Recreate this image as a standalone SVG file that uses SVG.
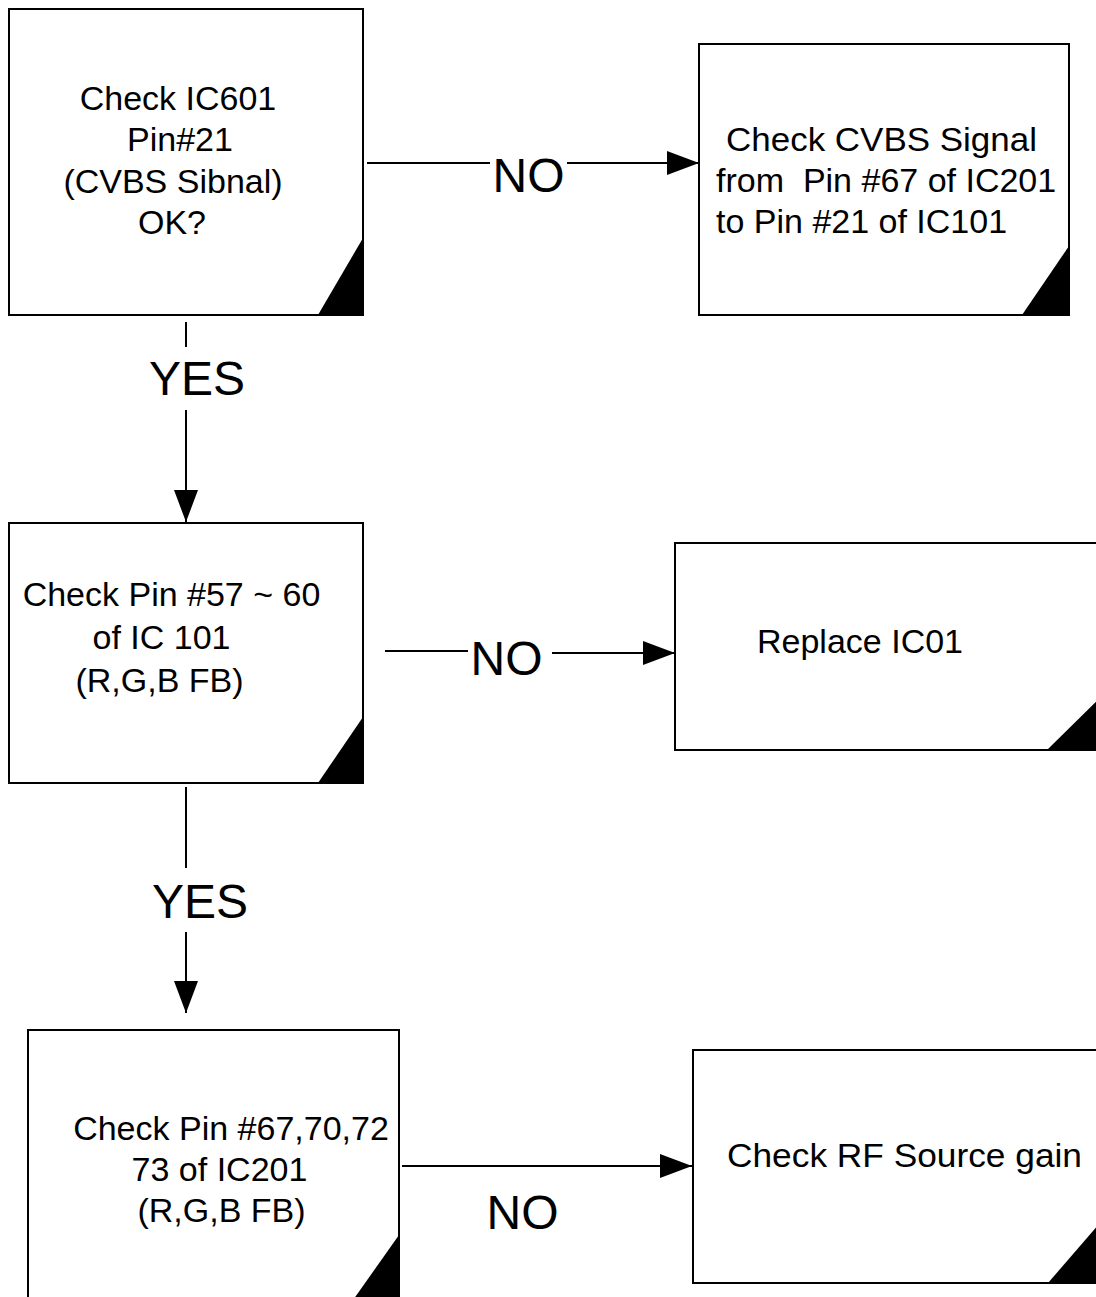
<svg xmlns="http://www.w3.org/2000/svg" width="1096" height="1297" viewBox="0 0 1096 1297">
<defs>
<marker id="arr" markerUnits="userSpaceOnUse" markerWidth="32" markerHeight="24" viewBox="0 0 32 24" refX="32" refY="12" orient="auto"><path d="M0,0 L32,12 L0,24 Z" fill="#000"/></marker>
<style>
.box{fill:#fff;stroke:#000;stroke-width:2}
.corner{fill:#000}
.t{font-family:"Liberation Sans",Arial,sans-serif;font-size:34px;fill:#000}
.m{text-anchor:middle}
.lbl{font-family:"Liberation Sans",Arial,sans-serif;font-size:48px;fill:#000;text-anchor:middle}
.c{stroke:#000;stroke-width:2;fill:none}
</style>
</defs>
<rect width="1096" height="1297" fill="#fff"/>
<g id="node1">
<rect class="box" x="9" y="9" width="354" height="306"/>
<polygon class="corner" points="363,238 363,315 318,315"/>
<text class="t m" x="178" y="110">Check IC601</text>
<text class="t m" x="180" y="151">Pin#21</text>
<text class="t m" x="173" y="193">(CVBS Sibnal)</text>
<text class="t m" x="172" y="234">OK?</text>
</g>
<g id="node2">
<rect class="box" x="699" y="44" width="370" height="271"/>
<polygon class="corner" points="1069,246 1069,315 1022,315"/>
<text class="t" x="726" y="151" textLength="311" lengthAdjust="spacingAndGlyphs">Check CVBS Signal</text>
<text class="t" x="716" y="192" xml:space="preserve">from  Pin #67 of IC201</text>
<text class="t" x="716" y="233">to Pin #21 of IC101</text>
</g>
<g id="node3">
<rect class="box" x="9" y="523" width="354" height="260"/>
<polygon class="corner" points="363,717 363,783 318,783"/>
<text class="t m" x="171.5" y="606">Check Pin #57 ~ 60</text>
<text class="t m" x="161.5" y="649">of IC 101</text>
<text class="t m" x="159.5" y="692">(R,G,B FB)</text>
</g>
<g id="node4">
<rect class="box" x="675" y="543" width="440" height="207"/>
<polygon class="corner" points="1047,750 1115,750 1115,683"/>
<text class="t" x="757" y="653">Replace IC01</text>
</g>
<g id="node5">
<rect class="box" x="28" y="1030" width="371" height="280"/>
<polygon class="corner" points="399,1235 399,1310 346,1310"/>
<text class="t m" x="231" y="1140">Check Pin #67,70,72</text>
<text class="t m" x="219.5" y="1181">73 of IC201</text>
<text class="t m" x="221.5" y="1222">(R,G,B FB)</text>
</g>
<g id="node6">
<rect class="box" x="693" y="1050" width="420" height="233"/>
<polygon class="corner" points="1048,1283 1113,1283 1113,1208"/>
<text class="t" x="727" y="1167" textLength="355" lengthAdjust="spacingAndGlyphs">Check RF Source gain</text>
</g>
<g id="connectors">
<line class="c" x1="367" y1="163" x2="490" y2="163"/>
<line class="c" x1="567" y1="163" x2="699" y2="163" marker-end="url(#arr)"/>
<text class="lbl" x="528.5" y="192">NO</text>
<line class="c" x1="186" y1="322" x2="186" y2="347"/>
<line class="c" x1="186" y1="410" x2="186" y2="522" marker-end="url(#arr)"/>
<text class="lbl" x="197" y="395">YES</text>
<line class="c" x1="385" y1="651" x2="468" y2="651"/>
<line class="c" x1="552" y1="653" x2="675" y2="653" marker-end="url(#arr)"/>
<text class="lbl" x="506.5" y="675">NO</text>
<line class="c" x1="186" y1="787" x2="186" y2="868"/>
<line class="c" x1="186" y1="932" x2="186" y2="1013" marker-end="url(#arr)"/>
<text class="lbl" x="200" y="918">YES</text>
<line class="c" x1="402" y1="1166" x2="692" y2="1166" marker-end="url(#arr)"/>
<text class="lbl" x="522.5" y="1229">NO</text>
</g>
</svg>
